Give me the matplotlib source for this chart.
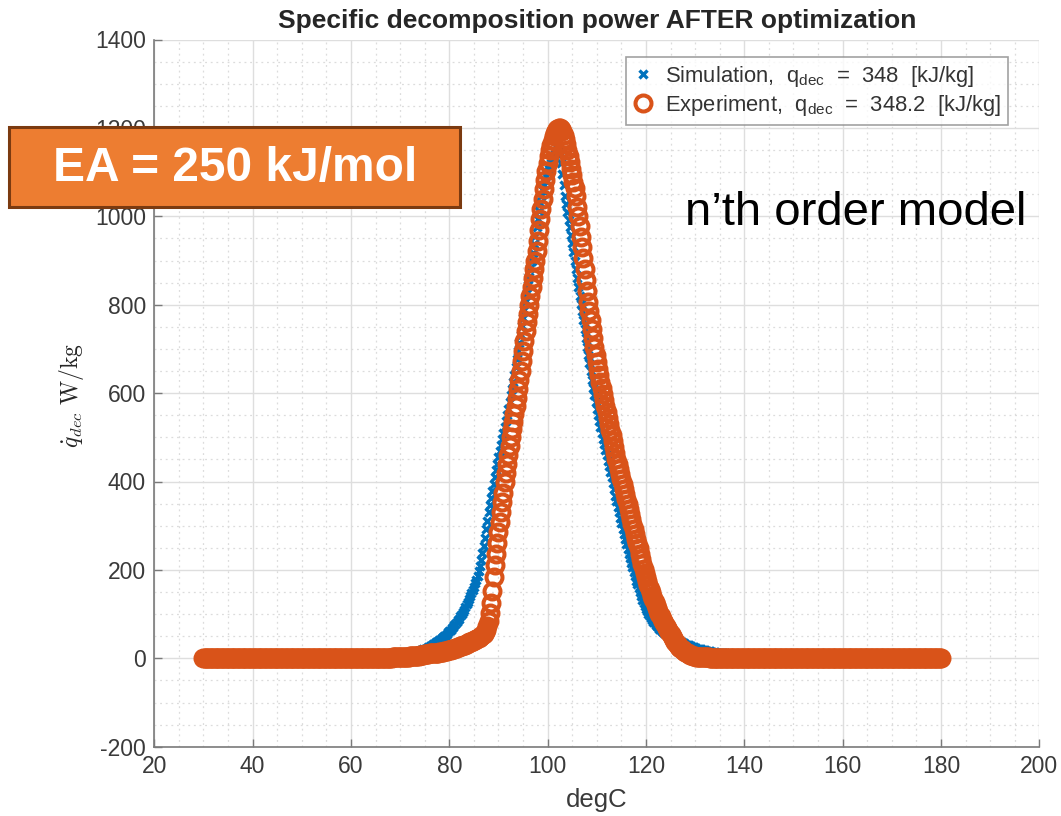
import numpy as np
import matplotlib
matplotlib.use("Agg")
import matplotlib.pyplot as plt
from matplotlib.patches import Rectangle
from matplotlib.ticker import MultipleLocator

plt.rcParams['font.family'] = ['Liberation Sans', 'DejaVu Sans']
plt.rcParams['mathtext.fontset'] = 'custom'
plt.rcParams['mathtext.rm'] = 'Liberation Sans'
plt.rcParams['mathtext.it'] = 'Liberation Sans:italic'
plt.rcParams['axes.unicode_minus'] = False

# temperature samples (degC), 0.25 degC spacing
step = 0.25
temp = np.arange(30.0, 180.0 + step / 2, step)

# simulation, W/kg, one row = 5 degC, starting at 61.0 degC (zero outside)
sim_start = 61.0
sim_peak = [
    0, 0, 1, 1, 1, 1, 1, 1, 1, 1, 1, 1, 2, 2, 2, 2, 2, 2, 2, 2,
    3, 3, 3, 3, 3, 3, 4, 4, 4, 4, 5, 5, 5, 5, 6, 6, 7, 7, 7, 8,
    8, 8, 9, 9, 10, 10, 11, 12, 13, 14, 15, 16, 17, 18, 19, 20, 21, 22, 24, 25,
    27, 28, 30, 32, 34, 36, 38, 40, 42, 44, 46, 48, 51, 53, 56, 59, 62, 65, 68, 71,
    75, 78, 82, 86, 90, 95, 100, 105, 110, 116, 122, 128, 135, 141, 148, 155, 162, 170, 178, 187,
    198, 209, 222, 238, 255, 273, 292, 311, 330, 347, 363, 379, 395, 410, 425, 440, 455, 469, 483, 497,
    510, 524, 538, 551, 565, 580, 595, 610, 625, 642, 659, 677, 695, 714, 732, 751, 770, 789, 808, 826,
    845, 863, 882, 900, 918, 937, 956, 976, 995, 1012, 1029, 1045, 1060, 1071, 1081, 1091, 1100, 1107, 1114, 1121,
    1128, 1134, 1140, 1146, 1150, 1148, 1140, 1120, 1095, 1070, 1045, 1027, 1010, 992, 975, 958, 940, 920, 900, 880,
    860, 840, 820, 802, 785, 765, 745, 725, 705, 686, 668, 649, 630, 612, 595, 580, 565, 551, 537, 523,
    510, 497, 485, 472, 460, 447, 435, 422, 410, 396, 382, 368, 355, 342, 330, 317, 305, 293, 281, 269,
    258, 247, 237, 226, 216, 206, 196, 186, 176, 167, 158, 149, 141, 133, 126, 119, 112, 106, 101, 96,
    91, 87, 83, 79, 76, 73, 70, 67, 64, 61, 59, 57, 55, 53, 51, 49, 48, 46, 45, 44,
    43, 41, 40, 39, 38, 36, 35, 34, 33, 31, 30, 29, 28, 27, 26, 25, 24, 23, 22, 21,
    21, 20, 19, 18, 18, 17, 17, 16, 16, 15, 15, 14, 14, 13, 13, 12, 12, 11, 11, 11,
    11, 10, 10, 9, 9, 9, 8, 8, 8, 7, 7, 7, 6, 6, 6, 6, 5, 5, 5, 5,
    4, 4, 4, 4, 4, 4, 3, 3, 3, 3, 3, 3, 2, 2, 2, 2, 2, 2, 1, 1,
    1, 1, 1, 1, 1, 1, 1, 1, 1, 1, 1, 1, 1, 1, 0, 0, 0, 0, 0, 0,
]

# experiment, W/kg, one row = 5 degC, starting at 66.0 degC
exp_start = 66.0
exp_peak = [
    0, 0, 0, 0, 1, 1, 1, 1, 1, 1, 2, 2, 2, 2, 3, 3, 3, 3, 3, 3,
    4, 4, 4, 4, 5, 5, 5, 5, 6, 6, 6, 6, 7, 7, 8, 8, 9, 9, 10, 10,
    11, 11, 12, 12, 12, 12, 13, 13, 14, 14, 15, 15, 16, 16, 17, 18, 19, 19, 20, 21,
    22, 23, 24, 25, 26, 27, 28, 29, 30, 31, 33, 34, 36, 37, 38, 40, 41, 42, 43, 45,
    46, 48, 50, 52, 55, 59, 65, 73, 85, 102, 125, 152, 185, 210, 235, 260, 285, 308, 330, 353,
    375, 398, 420, 440, 460, 480, 500, 518, 535, 552, 570, 590, 610, 630, 650, 672, 695, 718, 740, 760,
    780, 800, 820, 840, 860, 880, 900, 922, 945, 969, 993, 1017, 1040, 1062, 1083, 1102, 1120, 1136, 1150, 1162,
    1172, 1181, 1188, 1193, 1197, 1199, 1200, 1197, 1192, 1184, 1175, 1163, 1150, 1136, 1122, 1108, 1093, 1078, 1063, 1046,
    1022, 1000, 978, 954, 930, 905, 880, 855, 830, 807, 785, 765, 745, 725, 705, 687, 670, 655, 640, 626,
    612, 598, 585, 571, 558, 544, 530, 517, 505, 491, 478, 465, 452, 440, 428, 416, 405, 394, 383, 371,
    360, 349, 338, 326, 315, 303, 292, 281, 270, 260, 250, 237, 225, 214, 203, 193, 183, 174, 165, 157,
    149, 141, 134, 127, 120, 113, 107, 101, 96, 90, 85, 79, 74, 69, 64, 59, 55, 50, 46, 41,
    37, 33, 30, 26, 23, 20, 18, 16, 14, 12, 11, 9, 8, 7, 6, 5, 5, 4, 4, 4,
    3, 3, 3, 3, 2, 2, 2, 2, 1, 1, 1, 1, 1, 1, 1, 1, 0, 0, 0, 0,
]

sim_label = r'Simulation,  q$_{\mathrm{dec}}$  =  348  [kJ/kg]'
exp_label = r'Experiment,  q$_{\mathrm{dec}}$  =  348.2  [kJ/kg]'


def full_series(start, peak):
    q = np.zeros_like(temp)
    i0 = int(round((start - temp[0]) / step))
    q[i0:i0 + len(peak)] = peak
    return q


q_sim = full_series(sim_start, sim_peak)
q_exp = full_series(exp_start, exp_peak)

W, H = 1061, 816
fig = plt.figure(figsize=(W / 100, H / 100), dpi=100)
x0, x1, y0, y1 = 154.3, 1039.3, 39.5, 746.7
ax = fig.add_axes([x0 / W, (H - y1) / H, (x1 - x0) / W, (y1 - y0) / H])

ax.plot(temp, q_sim, linestyle='none', marker='x', color='#0072BD',
        markersize=6, markeredgewidth=2.4, label=sim_label)
ax.plot(temp, q_exp, linestyle='none', marker='o', markerfacecolor='none',
        markeredgecolor='#D95319', markersize=11.5, markeredgewidth=2.9,
        label=exp_label)

ax.set_xlim(20, 200)
ax.set_ylim(-200, 1400)
ax.xaxis.set_major_locator(MultipleLocator(20))
ax.xaxis.set_minor_locator(MultipleLocator(5))
ax.yaxis.set_major_locator(MultipleLocator(200))
ax.yaxis.set_minor_locator(MultipleLocator(50))
ax.grid(which='major', color='#dedede', linewidth=1.0)
ax.grid(which='minor', color='#dcdcdc', linewidth=0.9, linestyle=(0, (1.5, 3)))
ax.set_axisbelow(True)
for s in ['top', 'right']:
    ax.spines[s].set_visible(False)
for s in ['left', 'bottom']:
    ax.spines[s].set_color('#7a7a7a')
    ax.spines[s].set_linewidth(1.2)
ax.tick_params(which='major', direction='in', length=6, width=1,
               color='#7a7a7a', labelsize=16.5, labelcolor='#3a3a3a', pad=6)
ax.tick_params(which='minor', length=0)

fig.text(0.5627, (H - 21) / H, 'Specific decomposition power AFTER optimization',
         ha='center', va='center', fontsize=19, fontweight='bold', color='#262626')
fig.text(0.5627, (H - 800) / H, 'degC', ha='center', va='center',
         fontsize=18.5, color='#3a3a3a')
yl = fig.text(72 / W, (H - 395) / H, r'$\dot{q}_{dec}\ \mathrm{W/kg}$',
              ha='center', va='center', rotation=90, fontsize=17, color='#262626')
yl.set_math_fontfamily('cm')

leg = ax.legend(loc='upper right', bbox_to_anchor=((1008 - x0) / (x1 - x0), (y1 - 57) / (y1 - y0)),
                borderaxespad=0, fontsize=15.8, frameon=True, fancybox=False,
                edgecolor='#8a8a8a', handlelength=1.0, handletextpad=0.5,
                borderpad=0.3, labelspacing=0.2)
leg.get_frame().set_linewidth(1.2)
for t in leg.get_texts():
    t.set_color('#333333')

# orange annotation box
fig.patches.append(Rectangle((9 / W, (H - 207) / H), 451 / W, 80 / H,
                             transform=fig.transFigure, facecolor='#ED7D31',
                             edgecolor='#7B3A10', linewidth=2.2, zorder=5))
fig.text(235 / W, (H - 168) / H, 'EA = 250 kJ/mol', ha='center', va='center',
         fontsize=34.5, fontweight='bold', color='white', zorder=6)
fig.text(685 / W, (H - 213) / H, 'n\u2019th order model', ha='left', va='center',
         fontsize=34, color='black', zorder=6)

fig.savefig('out.png', dpi=100)
